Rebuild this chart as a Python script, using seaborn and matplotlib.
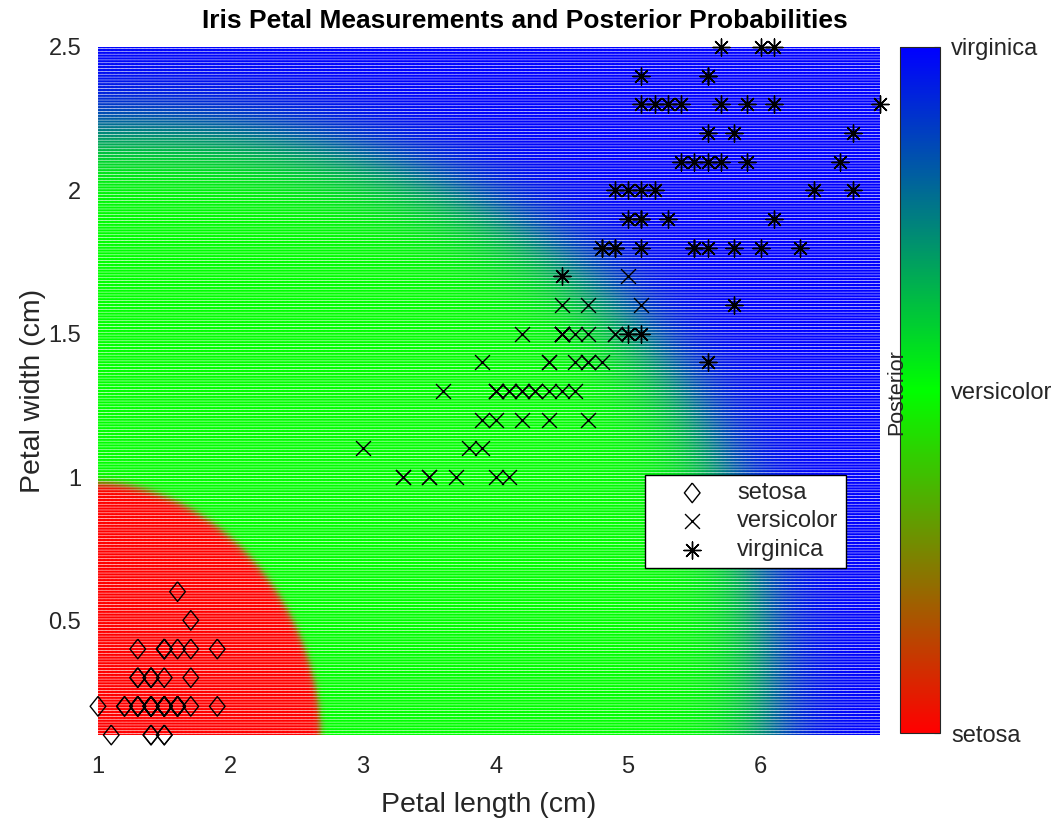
import numpy as np
import matplotlib
matplotlib.use("Agg")
import matplotlib.pyplot as plt
import seaborn as sns
from matplotlib.colors import LinearSegmentedColormap, Normalize
from matplotlib.cm import ScalarMappable

# ---------------- data ----------------
species = ["setosa", "versicolor", "virginica"]

setosa_length = [1.4, 1.4, 1.3, 1.5, 1.4, 1.7, 1.4, 1.5, 1.4, 1.5, 1.5, 1.6, 1.4, 1.1, 1.2,
                 1.5, 1.3, 1.4, 1.7, 1.5, 1.7, 1.5, 1.0, 1.7, 1.9, 1.6, 1.6, 1.5, 1.4, 1.6,
                 1.6, 1.5, 1.5, 1.4, 1.5, 1.2, 1.3, 1.4, 1.3, 1.5, 1.3, 1.3, 1.3, 1.6, 1.9,
                 1.4, 1.6, 1.4, 1.5, 1.4]
setosa_width = [0.2, 0.2, 0.2, 0.2, 0.2, 0.4, 0.3, 0.2, 0.2, 0.1, 0.2, 0.2, 0.1, 0.1, 0.2,
                0.4, 0.4, 0.3, 0.3, 0.3, 0.2, 0.4, 0.2, 0.5, 0.2, 0.2, 0.4, 0.2, 0.2, 0.2,
                0.2, 0.4, 0.1, 0.2, 0.2, 0.2, 0.2, 0.1, 0.2, 0.2, 0.3, 0.3, 0.2, 0.6, 0.4,
                0.3, 0.2, 0.2, 0.2, 0.2]

versicolor_length = [4.7, 4.5, 4.9, 4.0, 4.6, 4.5, 4.7, 3.3, 4.6, 3.9, 3.5, 4.2, 4.0, 4.7, 3.6,
                     4.4, 4.5, 4.1, 4.5, 3.9, 4.8, 4.0, 4.9, 4.7, 4.3, 4.4, 4.8, 5.0, 4.5, 3.5,
                     3.8, 3.7, 3.9, 5.1, 4.5, 4.5, 4.7, 4.4, 4.1, 4.0, 4.4, 4.6, 4.0, 3.3, 4.2,
                     4.2, 4.2, 4.3, 3.0, 4.1]
versicolor_width = [1.4, 1.5, 1.5, 1.3, 1.5, 1.3, 1.6, 1.0, 1.3, 1.4, 1.0, 1.5, 1.0, 1.4, 1.3,
                    1.4, 1.5, 1.0, 1.5, 1.1, 1.8, 1.3, 1.5, 1.2, 1.3, 1.4, 1.4, 1.7, 1.5, 1.0,
                    1.1, 1.0, 1.2, 1.6, 1.5, 1.6, 1.5, 1.3, 1.3, 1.3, 1.2, 1.4, 1.2, 1.0, 1.3,
                    1.2, 1.3, 1.3, 1.1, 1.3]

virginica_length = [6.0, 5.1, 5.9, 5.6, 5.8, 6.6, 4.5, 6.3, 5.8, 6.1, 5.1, 5.3, 5.5, 5.0, 5.1,
                    5.3, 5.5, 6.7, 6.9, 5.0, 5.7, 4.9, 6.7, 4.9, 5.7, 6.0, 4.8, 4.9, 5.6, 5.8,
                    6.1, 6.4, 5.6, 5.1, 5.6, 6.1, 5.6, 5.5, 4.8, 5.4, 5.6, 5.1, 5.1, 5.9, 5.7,
                    5.2, 5.0, 5.2, 5.4, 5.1]
virginica_width = [2.5, 1.9, 2.1, 1.8, 2.2, 2.1, 1.7, 1.8, 1.8, 2.5, 2.0, 1.9, 2.1, 2.0, 2.4,
                   2.3, 1.8, 2.2, 2.3, 1.5, 2.3, 2.0, 2.0, 1.8, 2.1, 1.8, 1.8, 1.8, 2.1, 1.6,
                   1.9, 2.0, 2.2, 1.5, 1.4, 2.3, 2.4, 1.8, 1.8, 2.1, 2.4, 2.3, 1.9, 2.3, 2.5,
                   2.3, 1.9, 2.0, 2.3, 1.8]

# posterior-field model
grid_x_range = [1.0, 6.9]
grid_y_range = [0.1, 2.5]
grid_step = 0.01
field_center = [1.0, 0.1]
setosa_semi_axes = [1.68, 0.88]
setosa_power = 1.9
setosa_sharpness = 110.0
virginica_semi_axes = [5.05, 2.11]
virginica_power = 2.3
virginica_sharpness = 30.0

x_ticks = [1, 2, 3, 4, 5, 6]
y_ticks = [0.5, 1, 1.5, 2, 2.5]
y_tick_labels = ["0.5", "1", "1.5", "2", "2.5"]

# ---------------- style ----------------
sns.set_style("white")
plt.rcParams['font.family'] = ['Liberation Sans', 'DejaVu Sans']
text_gray = (0.15, 0.15, 0.15)

W, H = 1057, 818
fig = plt.figure(figsize=(W / 100, H / 100), dpi=100)
ax = fig.add_axes([98 / W, 1 - 735 / H, 782 / W, 688 / H])
ax.set_facecolor("white")

# ---------------- background posterior grid ----------------
gx = np.round(np.arange(grid_x_range[0], grid_x_range[1] + 1e-9, grid_step), 2)
gy = np.round(np.arange(grid_y_range[0], grid_y_range[1] + 1e-9, grid_step), 2)
GX, GY = np.meshgrid(gx, gy)
dx = np.abs(GX - field_center[0])
dy = np.abs(GY - field_center[1])
r_set = ((dx / setosa_semi_axes[0]) ** setosa_power +
         (dy / setosa_semi_axes[1]) ** setosa_power) ** (1 / setosa_power)
r_vir = ((dx / virginica_semi_axes[0]) ** virginica_power +
         (dy / virginica_semi_axes[1]) ** virginica_power) ** (1 / virginica_power)
p_set = 1 / (1 + np.exp(setosa_sharpness * (r_set - 1)))
p_vir = (1 - p_set) / (1 + np.exp(-virginica_sharpness * (r_vir - 1)))
p_ver = np.clip(1 - p_set - p_vir, 0, 1)
rgb = np.column_stack([p_set.ravel(), p_ver.ravel(), p_vir.ravel()])

ax.scatter(GX.ravel(), GY.ravel(), c=rgb, s=3.0, marker='o', linewidths=0, zorder=1)

# ---------------- species points ----------------
diamond = [(0, 1), (0.8, 0), (0, -1), (-0.8, 0), (0, 1)]
sns.scatterplot(x=setosa_length, y=setosa_width, marker=diamond, s=200,
                facecolor='none', edgecolor='black', linewidth=1.0, ax=ax,
                label=species[0], clip_on=False, zorder=3)
sns.scatterplot(x=versicolor_length, y=versicolor_width, marker='x', s=115,
                color='black', linewidth=1.0, ax=ax, label=species[1],
                clip_on=False, zorder=3)
sns.scatterplot(x=virginica_length, y=virginica_width, marker=(8, 2, 0), s=150,
                color='black', linewidth=1.0, ax=ax, label=species[2],
                clip_on=False, zorder=3)

ax.set_xlim(grid_x_range)
ax.set_ylim(grid_y_range)
ax.set_xticks(x_ticks)
ax.set_yticks(y_ticks)
ax.set_yticklabels(y_tick_labels)
ax.tick_params(length=0, labelsize=17, colors=text_gray)
ax.tick_params(axis='x', pad=15)
ax.tick_params(axis='y', pad=12)
for s in ax.spines.values():
    s.set_visible(False)
ax.set_xlabel("Petal length (cm)", fontsize=20.5, color=text_gray, labelpad=10)
ax.set_ylabel("Petal width (cm)", fontsize=20.5, color=text_gray, labelpad=2)
title = ax.set_title("Iris Petal Measurements and Posterior Probabilities",
                     fontsize=19, fontweight='bold', color='black', pad=14)
title.set_x((525 - 98) / 782)

leg = ax.legend(loc='upper left', bbox_to_anchor=((645 - 98) / 782, (735 - 475) / 688),
                fontsize=17, frameon=True, fancybox=False, framealpha=1,
                edgecolor='black', borderpad=0.3, labelspacing=0.27,
                handlelength=3.4, handletextpad=0.2, borderaxespad=0)
leg.get_frame().set_linewidth(1.0)
for t in leg.get_texts():
    t.set_color(text_gray)

# ---------------- colorbar ----------------
cax = fig.add_axes([900 / W, 1 - 733 / H, 40 / W, 686 / H])
cmap = LinearSegmentedColormap.from_list("posterior", [(1, 0, 0), (0, 1, 0), (0, 0, 1)])
cb = fig.colorbar(ScalarMappable(norm=Normalize(0, 1), cmap=cmap), cax=cax, ticks=[0, 0.5, 1])
cb.ax.set_yticklabels(species)
cb.ax.tick_params(direction='in', length=4, width=0.8, labelsize=17, colors=text_gray, pad=8)
cb.outline.set_linewidth(0.8)
cb.outline.set_edgecolor(text_gray)
fig.text(897 / W, 1 - 392 / H, "Posterior", rotation=90, ha='center', va='center',
         fontsize=15.5, color=text_gray)

fig.savefig("out.png", dpi=100)
